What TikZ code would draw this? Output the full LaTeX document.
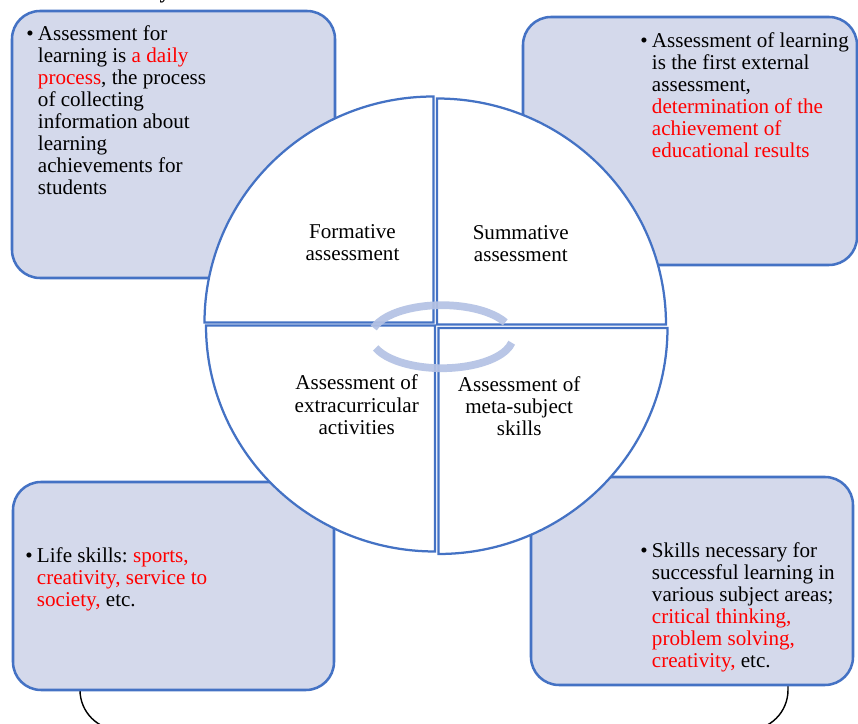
\documentclass[tikz,border=0pt]{standalone}
\usepackage{fontspec}
\setmainfont{Liberation Serif}
\usetikzlibrary{calc}
\frenchspacing

\definecolor{boxfill}{HTML}{D4D9EB}
\definecolor{boxline}{HTML}{4472C4}
\definecolor{ringblue}{HTML}{B4C2E4}
\definecolor{hilite}{HTML}{FF0000}

\newcommand{\redtext}[1]{\textcolor{hilite}{#1}}
\newcommand{\bul}{\llap{\textbullet\hspace{3pt}}}

\tikzset{
  infobox/.style={draw=boxline, fill=boxfill, line width=1.8pt, rounded corners=0.7cm},
  quarter/.style={draw=boxline, fill=white, line width=1.6pt},
  cyclering/.style={draw=ringblue, line width=5.5pt, opacity=0.92},
  bulletlist/.style={anchor=base west, inner sep=0pt, font=\fontsize{15}{15.65}\selectfont},
  sectorlabel/.style={anchor=base, inner sep=0pt, font=\fontsize{15}{15.65}\selectfont},
}

\begin{document}
\begin{tikzpicture}[x=0.025cm, y=0.025cm]
        \useasboundingbox (0,0) rectangle (858,724);
        \clip (0,0) rectangle (858,724);

        % Bracket running under the two lower boxes
        \coordinate (leftfoot) at (80,40);
        \coordinate (rightfoot) at (788,40);
        \draw[line width=1pt, rounded corners=1cm] (leftfoot) -- (80,-6) -- (788,-6) -- (rightfoot);

        % Draw the four corner boxes
        \draw[infobox] (12,446) rectangle (335,713);
        \draw[infobox] (523,459) rectangle (857,707);
        \draw[infobox] (13,34) rectangle (334,242);
        \draw[infobox] (531,39) rectangle (853,247);

        % Draw the circle as four quarters
        \draw[quarter] (433.5,401.5) -- ++(-229,0) arc[start angle=180, end angle=90, x radius=229, y radius=226] -- cycle;
        \draw[quarter] (437,399.5) -- ++(0,226) arc[start angle=90, end angle=0, x radius=229, y radius=226] -- cycle;
        \draw[quarter] (435,398.5) -- ++(-229,0) arc[start angle=180, end angle=270, x radius=229, y radius=226] -- cycle;
        \draw[quarter] (438.5,396) -- ++(229,0) arc[start angle=0, end angle=-90, x radius=229, y radius=226] -- cycle;

        % Cycle arrows in the middle
        \coordinate (hub) at (442,387.3);
        \draw[cyclering] ($(hub)+(27:71 and 31.5)$) arc[start angle=27, end angle=164, x radius=71, y radius=31.5];
        \draw[cyclering] ($(hub)+(201:71 and 31.5)$) arc[start angle=201, end angle=349, x radius=71, y radius=31.5];

        % Label the quarters
        \node[sectorlabel] (formative) at (352.5,485.7) {\begin{tabular}[t]{@{}c@{}}Formative\\ assessment\end{tabular}};
        \node[sectorlabel] (summative) at (520.8,484.7) {\begin{tabular}[t]{@{}c@{}}Summative\\ assessment\end{tabular}};
        \node[sectorlabel] (extracurr) at (356.7,334) {\begin{tabular}[t]{@{}c@{}}Assessment of\\ extracurricular\\ activities\end{tabular}};
        \node[sectorlabel] (metaskills) at (519.2,332.3) {\begin{tabular}[t]{@{}c@{}}Assessment of\\ meta-subject\\ skills\end{tabular}};

        % Texts in the boxes
        \node[bulletlist] (fortext) at (37.7,683.5) {\bul\begin{tabular}[t]{@{}l@{}}Assessment for\\ learning is \redtext{a daily}\\ \redtext{process}, the process\\ of collecting\\ information about\\ learning\\ achievements for\\ students\end{tabular}};
        \node[bulletlist] (oftext) at (651.7,676.3) {\bul\begin{tabular}[t]{@{}l@{}}Assessment of learning\\ is the first external\\ assessment,\\ \redtext{determination of the}\\ \redtext{achievement of}\\ \redtext{educational results}\end{tabular}};
        \node[bulletlist] (lifetext) at (36.7,161.3) {\bul\begin{tabular}[t]{@{}l@{}}Life skills: \redtext{sports,}\\ \redtext{creativity, service to}\\ \redtext{society,} etc.\end{tabular}};
        \node[bulletlist] (skilltext) at (651.7,166.7) {\bul\begin{tabular}[t]{@{}l@{}}Skills necessary for\\ successful learning in\\ various subject areas;\\ \redtext{critical thinking,}\\ \redtext{problem solving,}\\ \redtext{creativity,} etc.\end{tabular}};

        % Heading above, cut off by the page
        \node[sectorlabel, font=\fontsize{15}{15.65}\selectfont\bfseries] (heading) at (165,725) {y};
    \end{tikzpicture}
\end{document}
